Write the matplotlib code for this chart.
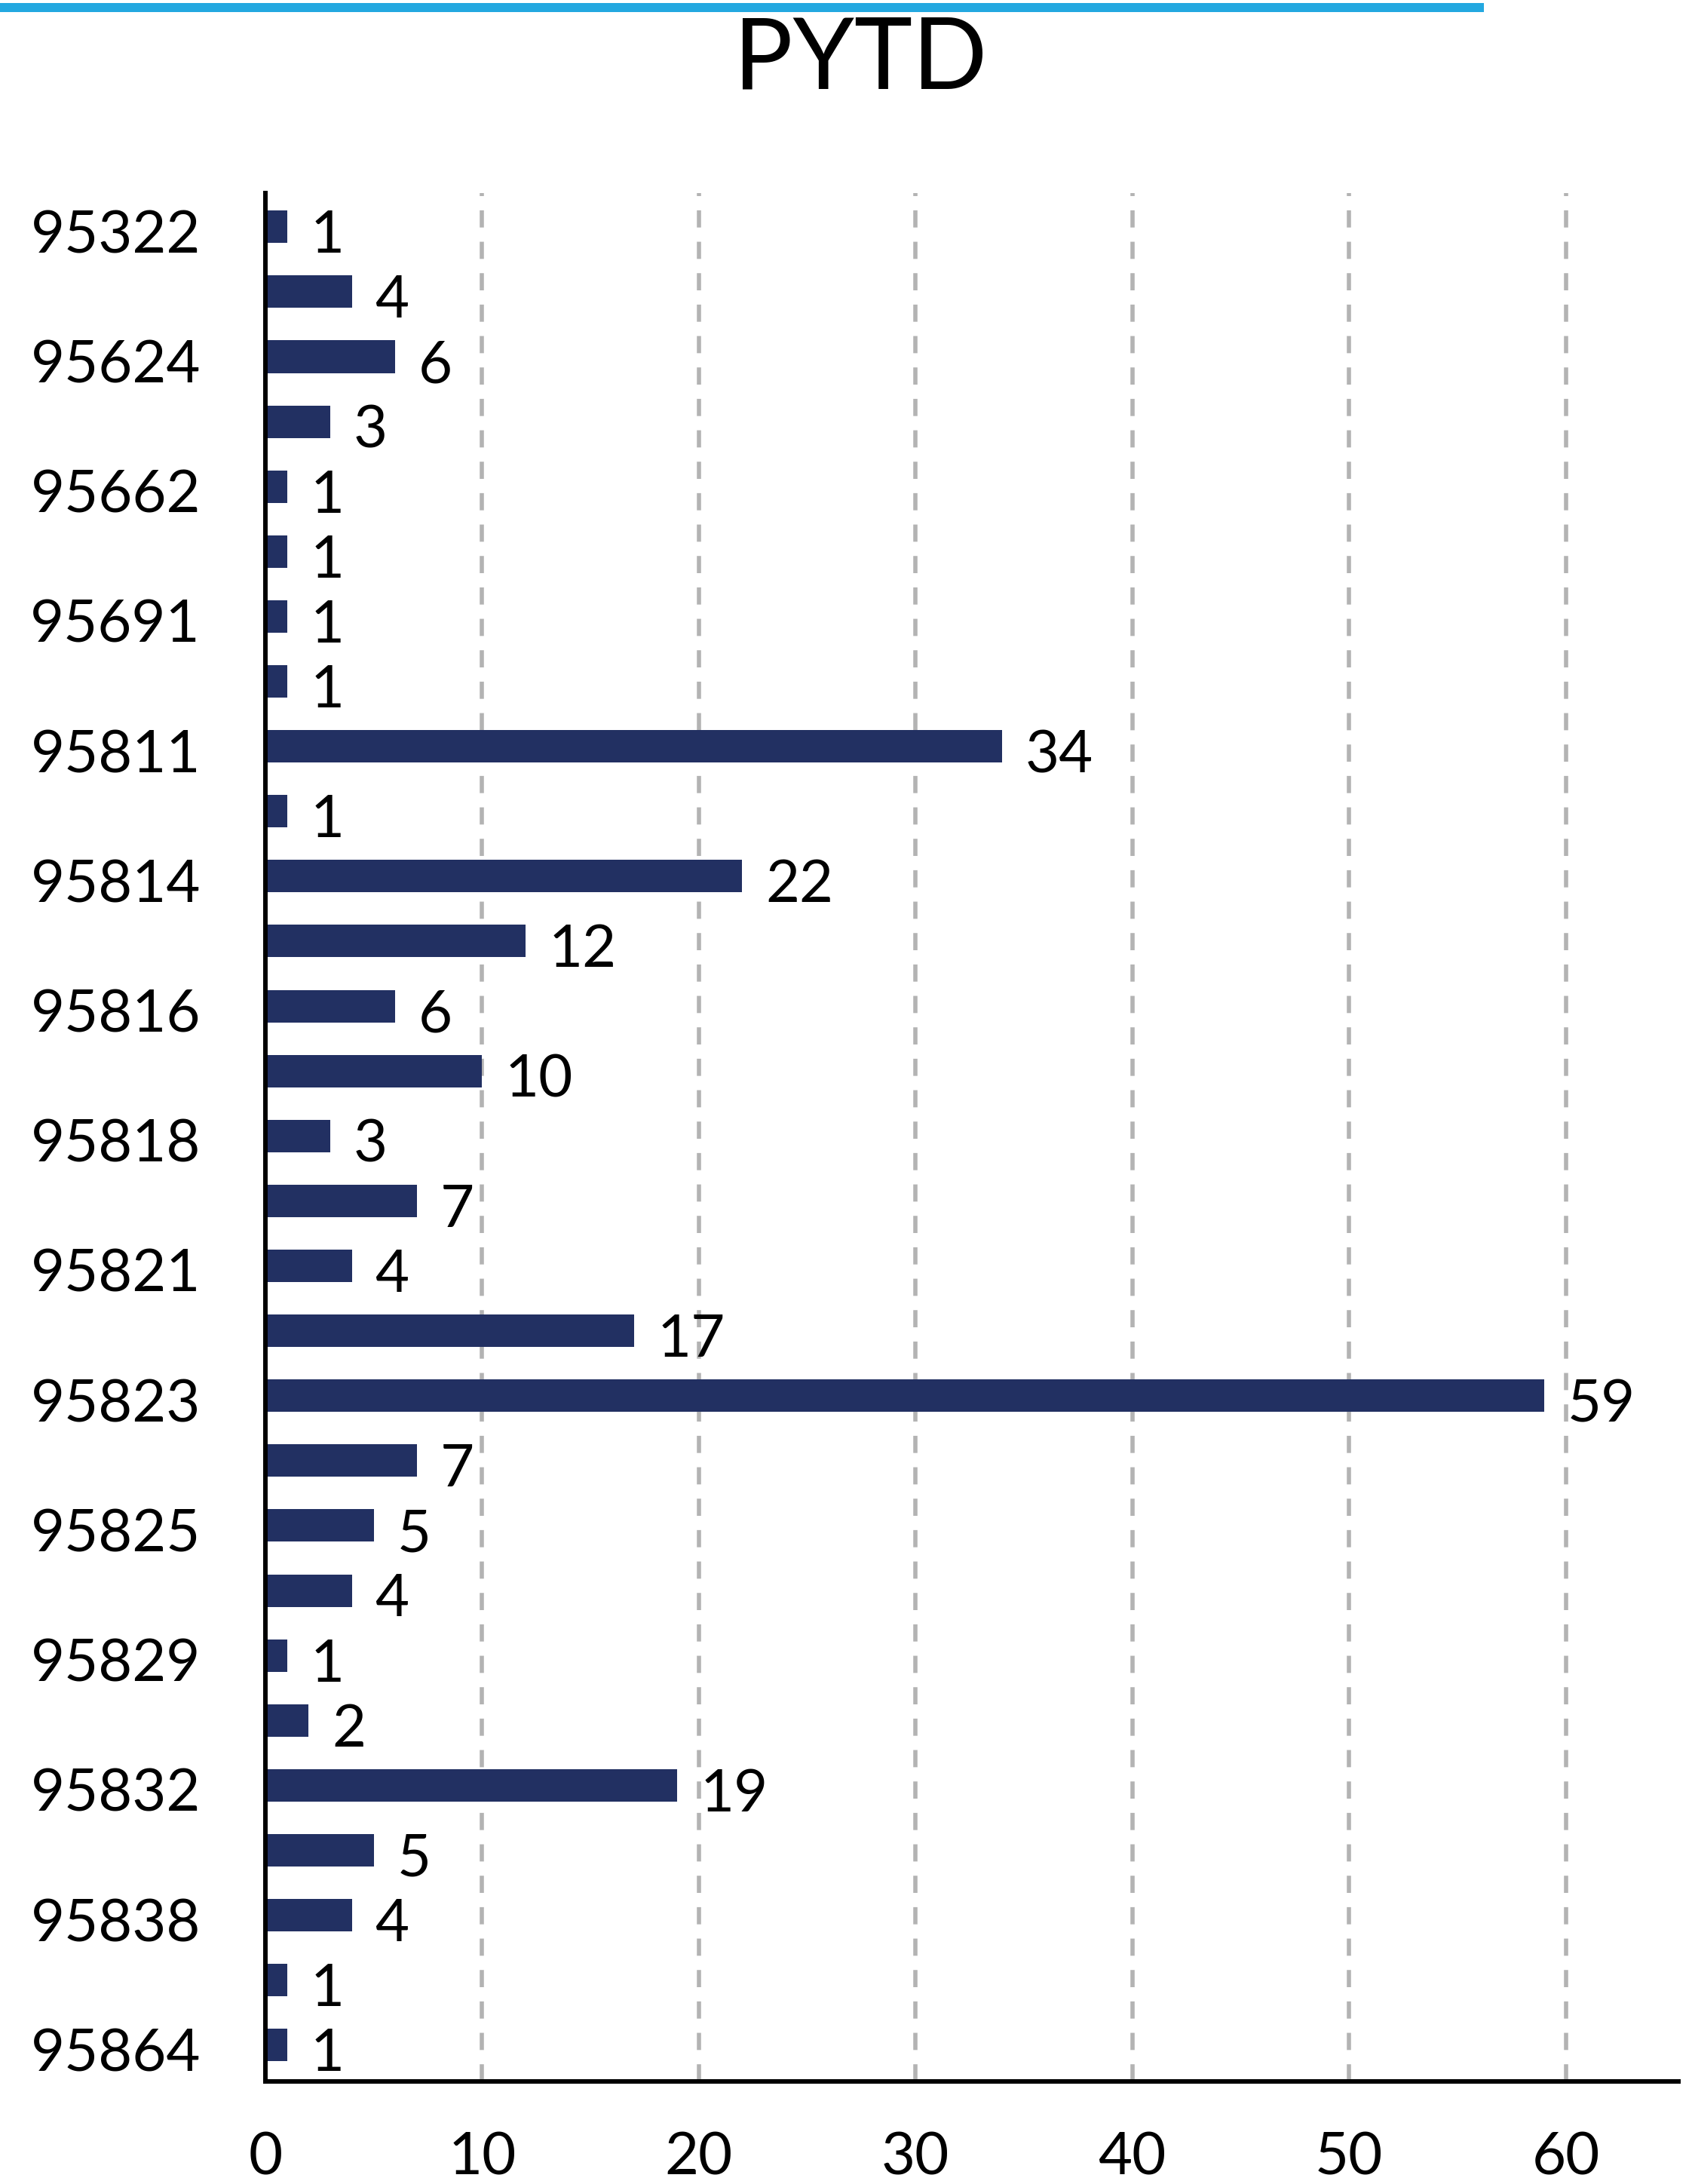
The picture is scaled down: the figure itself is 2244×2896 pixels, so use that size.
import numpy as np
import matplotlib
matplotlib.use('Agg')
import matplotlib.pyplot as plt
from matplotlib.patches import Rectangle
from matplotlib.transforms import ScaledTranslation

plt.rcParams['font.family'] = ['Lato', 'DejaVu Sans']

# data, top to bottom
values = [1, 4, 6, 3, 1, 1, 1, 1, 34, 1, 22, 12, 6, 10, 3, 7, 4, 17, 59,
          7, 5, 4, 1, 2, 19, 5, 4, 1, 1]
zip_labels = ['95322', '95624', '95662', '95691', '95811', '95814', '95816',
              '95818', '95821', '95823', '95825', '95829', '95832', '95838',
              '95864']
xticks = [0, 10, 20, 30, 40, 50, 60]
title = 'PYTD'

bar_color = '#223062'
grid_color = '#b3b3b3'

W, H = 2244, 2896
fig = plt.figure(figsize=(W / 100, H / 100), dpi=100)
ax = fig.add_axes([352 / W, 1 - 2760 / H, (2226 - 352) / W, (2760 - 256) / H])

pos = np.arange(len(values))
ax.barh(pos, values, height=0.5, color=bar_color, zorder=3)

ax.set_xlim(0, 65.2)
ax.set_ylim(len(values) - 1 + 0.56, -0.52)

# dashed grid
for x in xticks[1:]:
    ax.axvline(x, color=grid_color, lw=4, dashes=(4.1, 3.4), zorder=1)

# value labels
for p, v in zip(pos, values):
    ax.annotate(str(v), xy=(v, p + 0.4), xytext=(22, 0), textcoords='offset points',
                ha='left', va='baseline', fontsize=56, color='black')

ax.set_yticks(pos[::2])
ax.set_yticklabels(zip_labels, fontsize=56)
ax.set_xticks(xticks)
ax.set_xticklabels([str(t) for t in xticks], fontsize=56)
ax.tick_params(axis='y', length=0, pad=62)
ax.tick_params(axis='x', length=0, pad=48)

shift = ScaledTranslation(0, -34.5 / 100, fig.dpi_scale_trans)
for lab in ax.get_yticklabels():
    lab.set_verticalalignment('baseline')
    lab.set_transform(lab.get_transform() + shift)

for s in ['top', 'right']:
    ax.spines[s].set_visible(False)
ax.spines['left'].set_linewidth(4.3)
ax.spines['bottom'].set_linewidth(4.3)
ax.spines['left'].set_zorder(4)

# blue rule and title
fig.add_artist(Rectangle((0, 1 - 16 / H), 1968 / W, 12 / H, transform=fig.transFigure,
                         color='#23a8e0', lw=0))
fig.text(1141 / W, 1 - 117 / H, title, ha='center', va='baseline', fontsize=94)

fig.savefig('out.png', dpi=100, facecolor='white')
